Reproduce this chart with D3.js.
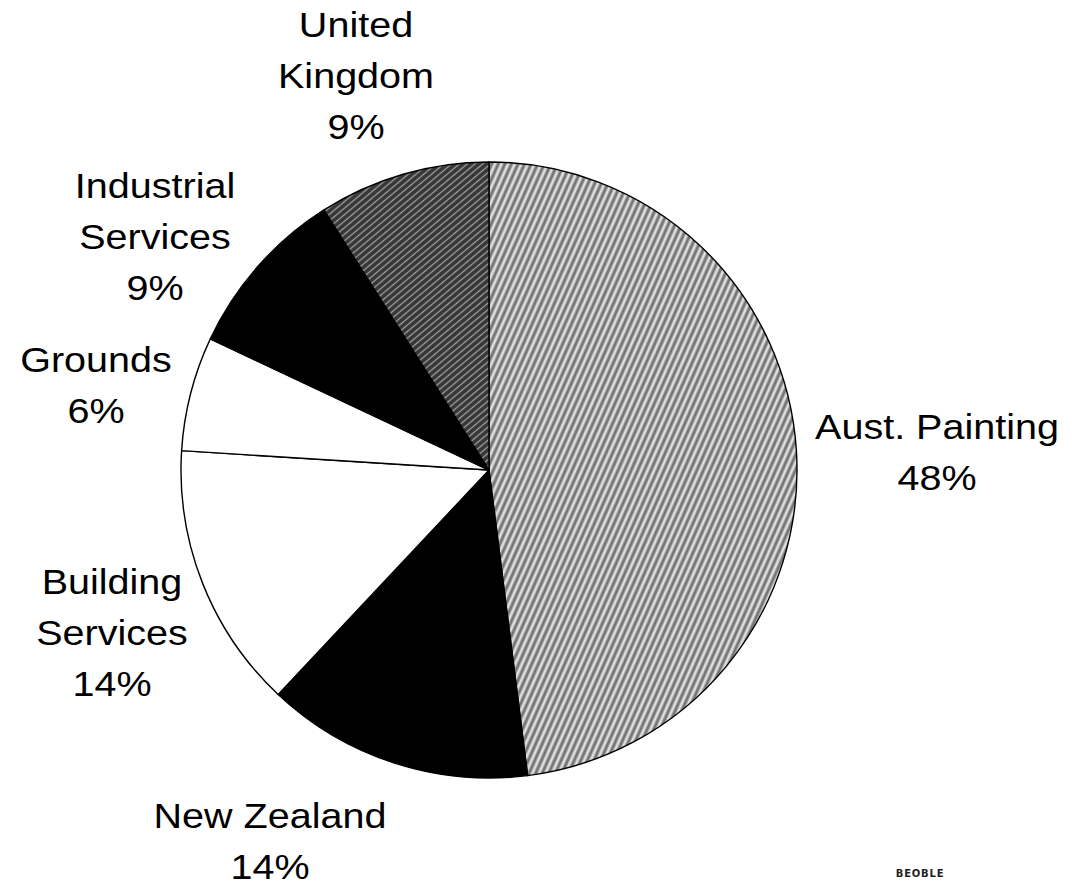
<!DOCTYPE html>
<html>
<head>
<meta charset="utf-8">
<script src="https://cdn.jsdelivr.net/npm/d3@7/dist/d3.min.js"></script>
<style>
  html, body { margin: 0; padding: 0; background: #fff; }
  svg { display: block; }
</style>
</head>
<body>
<svg id="chart" width="1077" height="885"></svg>
<script>
// Revenue split by business segment
const segments = ["Aust. Painting", "New Zealand", "Building Services", "Grounds", "Industrial Services", "United Kingdom"];
const shares   = [48, 14, 14, 6, 9, 9];
const fills    = ["url(#hatchLight)", "#000", "#fff", "#fff", "#000", "url(#hatchDark)"];
// label lines and anchor point (centre x, first baseline y) for each segment
const labelLines = [
  ["Aust. Painting", "48%"],
  ["New Zealand", "14%"],
  ["Building", "Services", "14%"],
  ["Grounds", "6%"],
  ["Industrial", "Services", "9%"],
  ["United", "Kingdom", "9%"]
];
const labelAnchors = [[937, 439], [270, 828], [112, 594], [96, 372], [155, 198], [356, 37]];

const svg = d3.select("#chart");
const defs = svg.append("defs");

// light diagonal hatch
const pl = defs.append("pattern")
  .attr("id", "hatchLight").attr("patternUnits", "userSpaceOnUse")
  .attr("width", 6).attr("height", 6)
  .attr("patternTransform", "rotate(24)");
pl.append("rect").attr("width", 6).attr("height", 6).attr("fill", "#a4a4a4");
pl.append("line").attr("x1", 1).attr("y1", 0).attr("x2", 1).attr("y2", 6)
  .attr("stroke", "#ffffff").attr("stroke-width", 1.3);
pl.append("line").attr("x1", 4).attr("y1", 0).attr("x2", 4).attr("y2", 6)
  .attr("stroke", "#3a3a3a").attr("stroke-width", 0.9);

// dark diagonal hatch
const pd = defs.append("pattern")
  .attr("id", "hatchDark").attr("patternUnits", "userSpaceOnUse")
  .attr("width", 5).attr("height", 5)
  .attr("patternTransform", "rotate(50)");
pd.append("rect").attr("width", 5).attr("height", 5).attr("fill", "#353535");
pd.append("line").attr("x1", 1.5).attr("y1", 0).attr("x2", 1.5).attr("y2", 5)
  .attr("stroke", "#a0a0a0").attr("stroke-width", 1.3);

const cx = 489, cy = 470, radius = 308;

const pie = d3.pie().sort(null).value(d => d.value);
const arc = d3.arc().innerRadius(0).outerRadius(radius);
const data = segments.map((name, i) => ({ name, value: shares[i], fill: fills[i] }));

const g = svg.append("g").attr("transform", `translate(${cx},${cy})`);
g.selectAll("path.slice")
  .data(pie(data))
  .join("path")
  .attr("class", "slice")
  .attr("d", arc)
  .attr("fill", d => d.data.fill)
  .attr("stroke", "#000")
  .attr("stroke-width", 1.4)
  .attr("stroke-linejoin", "round");

// labels (slightly widened face)
const lineStep = 51;
const stretch = 1.13;
const labels = svg.append("g")
  .attr("font-family", "'Liberation Sans', Arial, sans-serif")
  .attr("font-size", 35)
  .attr("fill", "#000")
  .attr("text-anchor", "middle");
labelLines.forEach((lines, i) => {
  const [lx, ly] = labelAnchors[i];
  const t = labels.append("text")
    .attr("transform", `translate(${lx},0) scale(${stretch},1)`)
    .attr("x", 0).attr("y", ly);
  lines.forEach((s, j) => {
    t.append("tspan").attr("x", 0).attr("y", ly + j * lineStep).text(s);
  });
});

// small footer mark
svg.append("text")
  .attr("x", 920).attr("y", 877)
  .attr("text-anchor", "middle")
  .attr("font-family", "'DejaVu Sans', sans-serif")
  .attr("font-weight", "bold")
  .attr("font-size", 10)
  .attr("letter-spacing", 0.8)
  .attr("fill", "#222")
  .text("BEOBLE");
</script>
</body>
</html>
